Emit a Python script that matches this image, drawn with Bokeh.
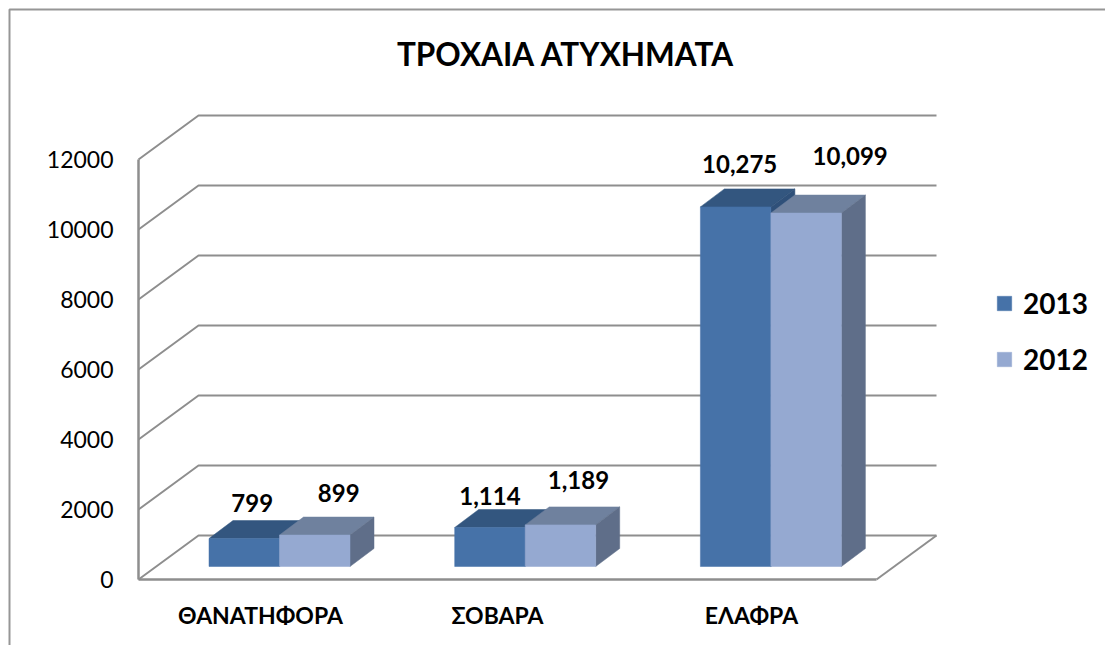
from bokeh.plotting import figure
from bokeh.models import (ColumnDataSource, FixedTicker, Label, Legend, LegendItem,
                          NumeralTickFormatter, Range1d)
from bokeh.core.properties import value
from bokeh.embed import file_html
from bokeh.resources import INLINE

# ---- data ----
categories = ["ΘΑΝΑΤΗΦΟΡΑ", "ΣΟΒΑΡΑ", "ΕΛΑΦΡΑ"]
series_names = ["2013", "2012"]
values_2013 = [799, 1114, 10275]
values_2012 = [899, 1189, 10099]
y_ticks = [0, 2000, 4000, 6000, 8000, 10000, 12000]
title_text = "ΤΡΟΧΑΙΑ ΑΤΥΧΗΜΑΤΑ"

# ---- layout: pixels of the chart's oblique projection ----
FONT = "Lato"
W, H = 1105, 645
ORG_X, ORG_Y = 0, 0
PX_PER_CAT = 245.7
PX_PER_UNIT = 0.035
CAT0_PX = 279.0               # x of the first category's centre
ZERO_PX = 579.0               # y of value 0 on the front plane
WALL_PX, FLOOR_END_PX, BACK_END_PX = 138.0, 876.0, 936.0
DEPTH_DX, DEPTH_DY = 60.0, 44.0
BAR_LIFT = 13.0               # bars' front face stands this far up the floor
BAR_W = 70.5 / PX_PER_CAT
BAR_DX, BAR_DY = 24.0, 18.0

def dx(px):
    return px / PX_PER_CAT

def dy(px):
    return px / PX_PER_UNIT

x_wall = dx(WALL_PX - CAT0_PX)
x_floor_end = dx(FLOOR_END_PX - CAT0_PX)
x_back_end = dx(BACK_END_PX - CAT0_PX)

p = figure(width=W, height=H, output_backend="svg", toolbar_location=None,
           x_range=Range1d(dx(ORG_X - CAT0_PX), dx(ORG_X + W - CAT0_PX)),
           y_range=Range1d(dy(ZERO_PX - (ORG_Y + H)), dy(ZERO_PX - ORG_Y)),
           min_border=0, min_border_left=0, min_border_right=0,
           min_border_top=0, min_border_bottom=0)
p.outline_line_color = None
p.grid.visible = False
p.background_fill_color = "white"

GRID = "#8e8e8e"
# outer chart border (only top and left reach the picture)
p.line([dx(9 - CAT0_PX), dx(9 - CAT0_PX), dx(ORG_X + W - CAT0_PX)],
       [dy(ZERO_PX - (ORG_Y + H)), dy(ZERO_PX - 9), dy(ZERO_PX - 9)],
       line_color="#969696", line_width=2)

# walls and gridlines
for t in y_ticks:
    p.line([x_wall, x_wall + dx(DEPTH_DX), x_back_end],
           [t, t + dy(DEPTH_DY), t + dy(DEPTH_DY)],
           line_color=GRID, line_width=2)
p.line([x_floor_end, x_back_end], [0, dy(DEPTH_DY)], line_color=GRID, line_width=2)

# bars
styles = [
    dict(values=values_2013, shift=-0.5, front="#4672a8", top="#33567f", side="#2f5079"),
    dict(values=values_2012, shift=0.5, front="#95a9d1", top="#6f819e", side="#5f6e89"),
]
base = dy(BAR_LIFT)
legend_items = []
for name, s in zip(series_names, styles):
    xl = [i + s["shift"] * BAR_W - BAR_W / 2 for i in range(len(categories))]
    xr = [v + BAR_W for v in xl]
    tops = [base + v for v in s["values"]]
    ddx, ddy = dx(BAR_DX), dy(BAR_DY)
    # top face
    p.patches([[a, b, b + ddx, a + ddx] for a, b in zip(xl, xr)],
              [[t, t, t + ddy, t + ddy] for t in tops],
              fill_color=s["top"], line_color=s["top"], line_width=0.5)
    # side face
    p.patches([[b, b + ddx, b + ddx, b] for b in xr],
              [[base, base + ddy, t + ddy, t] for t in tops],
              fill_color=s["side"], line_color=s["side"], line_width=0.5)
    # front face
    r = p.quad(left=xl, right=xr, bottom=[base] * len(xl), top=tops,
               fill_color=s["front"], line_color=s["front"], line_width=0.5)
    legend_items.append(LegendItem(label=name, renderers=[r]))

# data labels
label_dx = [[8, 0, 4], [24, 18, 44]]
label_dy = [[36, 32, 43], [42, 45, 57.5]]
for k, s in enumerate(styles):
    src = ColumnDataSource(dict(
        x=[i + s["shift"] * BAR_W for i in range(len(categories))],
        y=[base + v for v in s["values"]],
        text=[f"{v:,}" for v in s["values"]],
        xo=label_dx[k],
        yo=[-v for v in label_dy[k]],
    ))
    p.text("x", "y", text="text", source=src, x_offset="xo", y_offset="yo",
           text_font=value(FONT), text_font_style="bold", text_font_size="24px",
           text_align="center", text_baseline="middle", text_color="black")

# axes
yax = p.yaxis[0]
yax.fixed_location = x_wall
yax.bounds = (0, 12000)
yax.ticker = FixedTicker(ticks=y_ticks)
yax.formatter = NumeralTickFormatter(format="0")
yax.major_tick_line_color = None
yax.minor_tick_line_color = None
yax.axis_line_color = GRID
yax.axis_line_width = 2.5
yax.major_label_standoff = 19
yax.major_label_text_font = FONT
yax.major_label_text_font_size = "23px"
yax.major_label_text_color = "black"

xax = p.xaxis[0]
xax.fixed_location = 0
xax.bounds = (x_wall, x_floor_end)
tick_pos = [dx(260 - CAT0_PX), dx(497 - CAT0_PX), dx(751 - CAT0_PX)]
xax.ticker = FixedTicker(ticks=tick_pos)
xax.major_label_overrides = dict(zip(tick_pos, categories))
xax.major_tick_line_color = None
xax.minor_tick_line_color = None
xax.axis_line_color = GRID
xax.axis_line_width = 2.5
xax.major_label_standoff = 15
xax.major_label_text_font = FONT
xax.major_label_text_font_style = "bold"
xax.major_label_text_font_size = "23px"
xax.major_label_text_color = "black"

# title
p.add_layout(Label(x=565 - ORG_X, y=H - (53 - ORG_Y), x_units="screen", y_units="screen",
                   text=title_text, text_font=FONT, text_font_style="bold",
                   text_font_size="31.5px", text_align="center", text_baseline="middle",
                   text_color="black"))

# legend
legend = Legend(items=legend_items, location=(995, 269), orientation="vertical",
                glyph_width=18, glyph_height=18, label_text_font=FONT,
                label_text_font_style="bold", label_text_font_size="28px",
                label_text_color="black", border_line_color=None,
                background_fill_alpha=0, spacing=22, margin=0, padding=0,
                label_standoff=10)
p.add_layout(legend)

open("out.html", "w").write(file_html(p, INLINE))
